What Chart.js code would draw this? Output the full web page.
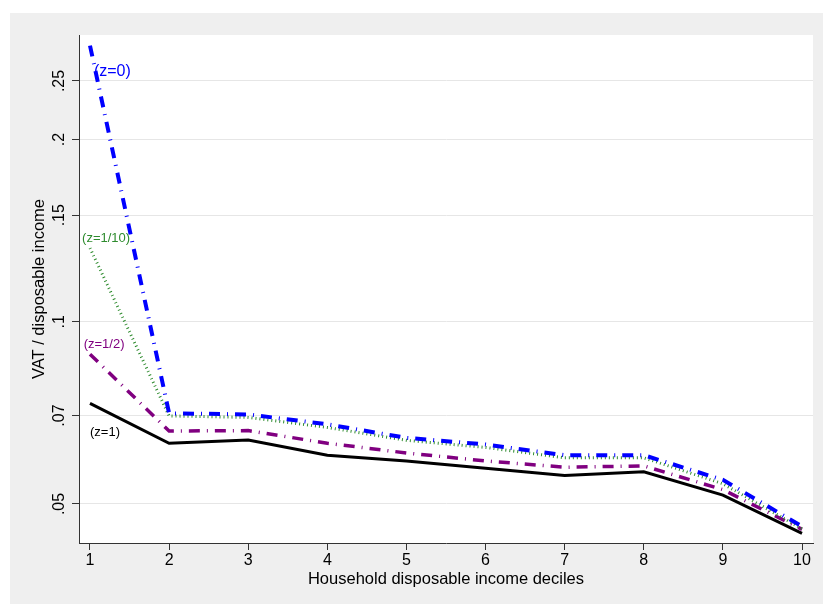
<!DOCTYPE html>
<html>
<head>
<meta charset="utf-8">
<script src="https://cdn.jsdelivr.net/npm/chart.js@4.4.1/dist/chart.umd.min.js"></script>
<style>
  html, body { margin: 0; padding: 0; background: #ffffff; }
  #box { position: absolute; left: 10px; top: 13px; width: 813px; height: 591px; background: #efefef; }
  canvas { display: block; }
</style>
</head>
<body>
<div id="box"><canvas id="chartjs-0" width="811" height="591"></canvas></div>
<script>
// deciles on the x axis
var deciles = [1, 2, 3, 4, 5, 6, 7, 8, 9, 10];

// VAT / disposable income, one array per z value
var vatZ0   = [0.286, 0.0706, 0.0703, 0.0677, 0.0643, 0.0627, 0.0602, 0.0602, 0.0548, 0.0459];
var vatZ110 = [0.1324, 0.0699, 0.0695, 0.0669, 0.0637, 0.0620, 0.0596, 0.0596, 0.0540, 0.0455];
var vatZ12  = [0.0884, 0.0660, 0.0661, 0.0630, 0.0607, 0.0589, 0.0575, 0.0578, 0.0528, 0.0454];
var vatZ1   = [0.0733, 0.0630, 0.0638, 0.0602, 0.0589, 0.0573, 0.0557, 0.0565, 0.0517, 0.0447];

var seriesLabels = ["(z=0)", "(z=1/10)", "(z=1/2)", "(z=1)"];
// where each series label sits, in data units
var labelX = [1.05, 0.90, 0.92, 1.0];
var labelY = [0.2587, 0.1375, 0.0916, 0.0656];

var yTicks = [0.05, 0.07, 0.1, 0.15, 0.2, 0.25];

var FONT = "'Liberation Sans', Arial, sans-serif";

function pts(arr) {
    var out = [];
    for (var i = 0; i < deciles.length; i++) {
        out.push({x: deciles[i], y: arr[i]});
    }
    return out;
}

/* white plot region like stata */
var plotBg = {
    id: "plotBg",
    beforeDraw: function (chart) {
        var a = chart.chartArea;
        var ctx = chart.ctx;
        ctx.save();
        ctx.fillStyle = "#ffffff";
        ctx.fillRect(a.left, a.top, a.right - a.left, a.bottom - a.top);
        ctx.restore();
    }
};

/* the (z=..) labels next to the first decile */
var seriesText = {
    id: "seriesText",
    afterDatasetsDraw: function (chart) {
        var ctx = chart.ctx;
        var xs = chart.scales.x, ys = chart.scales.y;
        ctx.save();
        ctx.textAlign = "left";
        ctx.textBaseline = "middle";
        chart.data.datasets.forEach(function (ds, i) {
            ctx.fillStyle = ds.borderColor;
            ctx.font = (i === 0 ? "16px " : "13px ") + FONT;
            ctx.fillText(seriesLabels[i], xs.getPixelForValue(labelX[i]), ys.getPixelForValue(labelY[i]));
        });
        ctx.restore();
    }
};

var ctx = document.getElementById("chartjs-0");

var myChart = new Chart(ctx, {
    "type": "line",
    "data": {
        "datasets": [{
            data: pts(vatZ0),
            borderColor: "#0000ff",
            borderWidth: 4,
            borderDash: [11, 7, 1, 7]
        }, {
            data: pts(vatZ110),
            borderColor: "#2e8b2e",
            borderWidth: 3,
            borderDash: [1, 3]
        }, {
            data: pts(vatZ12),
            borderColor: "#800080",
            borderWidth: 3.5,
            borderDash: [11, 7, 1, 7]
        }, {
            data: pts(vatZ1),
            borderColor: "#000000",
            borderWidth: 3
        }]
    },
    "options": {
        responsive: false,
        animation: false,
        layout: { padding: { top: 22, right: 8, left: 0, bottom: 0 } },
        elements: {
            point: { radius: 0 },
            line: { tension: 0, fill: false, borderCapStyle: "butt" }
        },
        plugins: {
            legend: { display: false },
            tooltip: { enabled: false }
        },
        scales: {
            x: {
                type: "linear",
                min: 0.861,
                max: 10.139,
                afterBuildTicks: function (s) {
                    s.ticks = deciles.map(function (d) { return {value: d}; });
                },
                afterFit: function (s) { s.height = 61; },
                grid: { drawOnChartArea: false, drawTicks: true, tickLength: 7, tickColor: "#333333" },
                border: { display: true, color: "#333333", width: 1 },
                ticks: {
                    padding: 1,
                    maxRotation: 0,
                    color: "#000000",
                    font: { family: FONT, size: 16 },
                    callback: function (v) { return String(v); }
                },
                title: {
                    display: true,
                    text: "Household disposable income deciles",
                    color: "#000000",
                    font: { family: FONT, size: 16.5 },
                    padding: { top: 0, bottom: 15 }
                }
            },
            y: {
                type: "logarithmic",
                min: 0.0431,
                max: 0.2978,
                afterBuildTicks: function (s) {
                    s.ticks = yTicks.map(function (v) { return {value: v}; });
                },
                afterFit: function (s) { s.width = 69; },
                grid: { color: "#e6e6e6", lineWidth: 1, drawTicks: true, tickLength: 7, tickColor: "#333333" },
                border: { display: true, color: "#333333", width: 1 },
                ticks: {
                    minRotation: 90,
                    maxRotation: 90,
                    crossAlign: "center",
                    padding: 1.5,
                    color: "#000000",
                    font: { family: FONT, size: 16 },
                    callback: function (v) { return String(v).replace(/^0/, ""); }
                },
                title: {
                    display: true,
                    text: "VAT / disposable income",
                    color: "#000000",
                    font: { family: FONT, size: 16.5 },
                    padding: { top: 20, bottom: 0 }
                }
            }
        }
    },
    plugins: [plotBg, seriesText]
});
</script>
</body>
</html>
